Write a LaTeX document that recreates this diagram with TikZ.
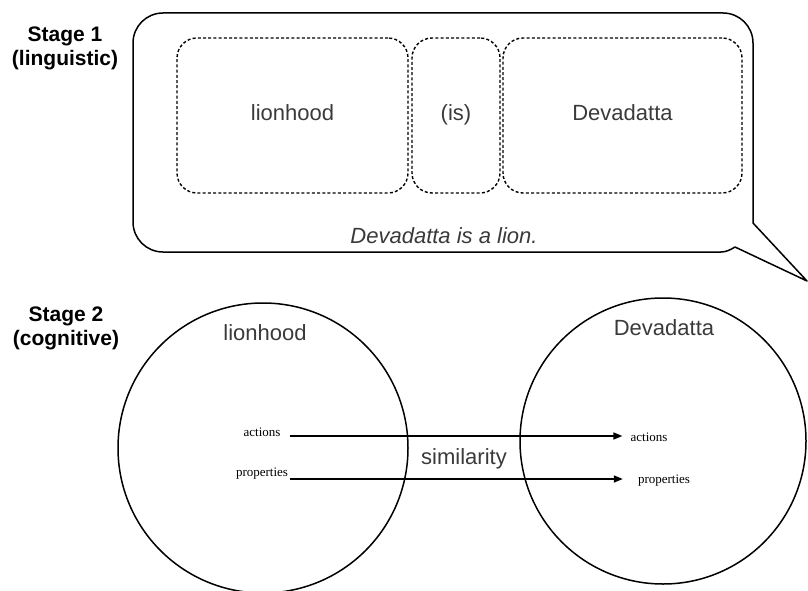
\documentclass[tikz,border=0pt]{standalone}
\usepackage{fontspec}
\setmainfont{Liberation Sans}
\newfontfamily\timesf{Liberation Serif}
\usetikzlibrary{arrows.meta}
\definecolor{txtgray}{HTML}{3A3A3A}
\tikzset{
  word/.style={font=\fontsize{22}{24}\selectfont, text=txtgray, inner sep=0pt},
  stagelbl/.style={font=\fontsize{21}{24}\selectfont\bfseries, align=center, inner sep=0pt},
  dotbox/.style={draw, line width=1.4pt, dash pattern=on 3pt off 2.2pt, rounded corners=20pt,
    minimum height=155pt, inner sep=0pt, text height=16pt, text depth=5pt,
    font=\fontsize{22}{24}\selectfont, text=txtgray},
  bigcircle/.style={draw, circle, line width=1.5pt, inner sep=0pt},
  small/.style={font=\timesf\fontsize{13}{15}\selectfont, inner sep=0pt},
  arr/.style={line width=1.5pt, -{Triangle[length=9pt,width=7pt]}}
}
\begin{document}
\begin{tikzpicture}[x=1pt,y=-1pt]
\useasboundingbox (0,0) rectangle (808,591);

% stage labels
\node[stagelbl] (st1) at (65,48) {Stage 1\\(linguistic)};
\node[stagelbl] (st2) at (66,328) {Stage 2\\(cognitive)};

% speech bubble
\draw[line width=1.5pt, line join=round]
  (133,43) -- (133,222) .. controls (133,238.6) and (146.4,252) .. (163,252)
  -- (721,252) .. controls (726,252) and (730,250) .. (735,247)
  -- (807,281) -- (753,223) -- (753,43)
  .. controls (753,26.4) and (739.6,13) .. (723,13)
  -- (163,13) .. controls (146.4,13) and (133,26.4) .. (133,43) -- cycle;

% dotted boxes
\node[dotbox, minimum width=231pt] (b1) at (292.5,115.5) {lionhood};
\node[dotbox, minimum width=88pt] (b2) at (456,115.5) {(is)};
\node[dotbox, minimum width=239pt] (b3) at (622.5,115.5) {Devadatta};

\node[word, font=\fontsize{22}{24}\selectfont\itshape, anchor=base] (sent) at (444,243) {Devadatta is a lion.};

% circles
\node[bigcircle, minimum size=290pt] (c1) at (263,448) {};
\node[bigcircle, minimum size=286pt] (c2) at (663,441) {};
\node[word] (l1) at (265,333) {lionhood};
\node[word] (l2) at (664,328) {Devadatta};

% small labels
\node[small] (la) at (262,432) {actions};
\node[small] (lp) at (262,474) {properties};
\node[small] (ra) at (649,437) {actions};
\node[small] (rp) at (664,481) {properties};

\draw[arr] ([xshift=9pt,yshift=-4pt]la.east) -- ([xshift=-8pt]ra.west |- 0,436);
\draw[arr] ([xshift=2pt,yshift=-5pt]lp.east) -- ([xshift=-15pt]rp.west |- 0,479);

\node[word] (sim) at (464,459) {similarity};
\end{tikzpicture}
\end{document}
